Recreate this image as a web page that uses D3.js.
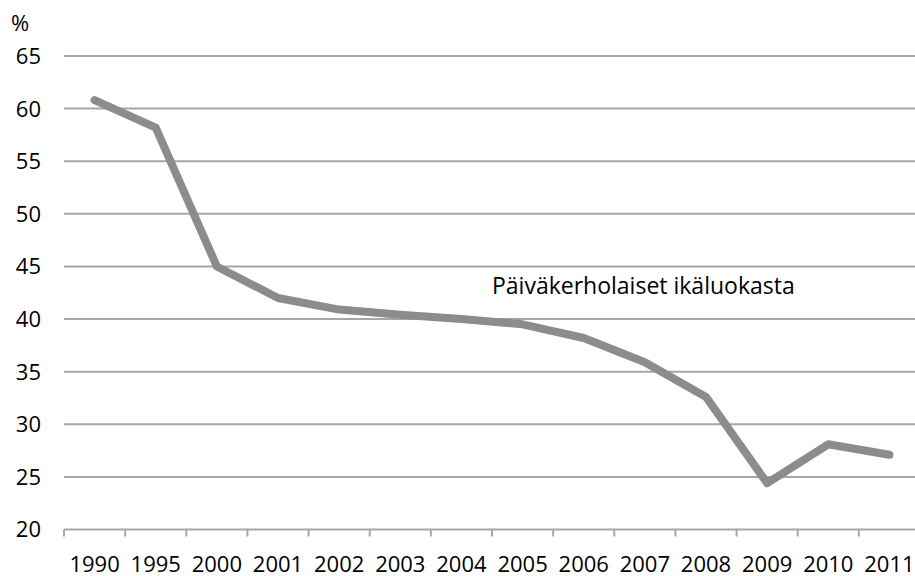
<!DOCTYPE html>
<html>
<head>
<meta charset="utf-8">
<script src="https://cdn.jsdelivr.net/npm/d3@7"></script>
<style>
  body { margin: 0; background: #fff; }
  text { font-family: "Open Sans", sans-serif; fill: #000; }
</style>
</head>
<body>
<svg id="chart" width="915" height="576"></svg>
<script>
// data
var years = ["1990", "1995", "2000", "2001", "2002", "2003", "2004", "2005", "2006", "2007", "2008", "2009", "2010", "2011"];
var values = [60.8, 58.2, 45.0, 42.0, 40.9, 40.4, 40.0, 39.5, 38.2, 35.9, 32.6, 24.4, 28.1, 27.1];
var yTicks = [20, 25, 30, 35, 40, 45, 50, 55, 60, 65];
var seriesLabel = "Päiväkerholaiset ikäluokasta";

function drawChart(){
  var svg = d3.select("#chart")
    , left = 64
    , right = 920
    , plotTop = 56
    , plotBottom = 529.5
    , gridColor = "#a6a6a6";

  var x = d3.scaleBand()
    .domain(years)
    .range([left, right]);

  var y = d3.scaleLinear()
    .domain([20, 65])
    .range([plotBottom, plotTop]);

  // gridlines (not at 20, the axis sits there)
  svg.append("g")
    .selectAll("line")
    .data(yTicks.filter(d => d > 20))
    .enter()
    .append("line")
    .attr("x1", left)
    .attr("x2", 915)
    .attr("y1", d => y(d))
    .attr("y2", d => y(d))
    .attr("stroke", gridColor)
    .attr("stroke-width", 2);

  // y labels
  svg.append("g")
    .selectAll("text")
    .data(yTicks)
    .enter()
    .append("text")
    .attr("x", 41)
    .attr("y", d => y(d))
    .attr("dy", "0.36em")
    .attr("text-anchor", "end")
    .style("font-size", "22px")
    .text(d => d);

  svg.append("text")
    .attr("x", 11)
    .attr("y", 31)
    .style("font-size", "22px")
    .text("%");

  // x axis
  var xAxis = d3.axisBottom(x)
    .tickSize(0)
    .tickSizeOuter(0);

  var gx = svg.append("g")
    .attr("transform", "translate(0," + plotBottom + ")")
    .call(xAxis);
  gx.select(".domain").remove();
  gx.selectAll("text")
    .attr("y", 42)
    .attr("dy", 0)
    .attr("fill", "#000")
    .style("font-size", "22px")
    .style("font-family", "'Open Sans', sans-serif");
  gx.attr("font-family", null).attr("font-size", null);

  gx.append("line")
    .attr("x1", left)
    .attr("x2", 915)
    .attr("stroke", gridColor)
    .attr("stroke-width", 2);

  // tick marks at band boundaries
  gx.selectAll(".bound")
    .data(years)
    .enter()
    .append("line")
    .attr("class", "bound")
    .attr("x1", d => x(d))
    .attr("x2", d => x(d))
    .attr("y1", 0)
    .attr("y2", 7)
    .attr("stroke", gridColor)
    .attr("stroke-width", 2);

  // the series
  var line = d3.line()
    .x((d, i) => x(years[i]) + x.bandwidth() / 2)
    .y(d => y(d));

  svg.append("path")
    .datum(values)
    .attr("d", line)
    .attr("fill", "none")
    .attr("stroke", "#8c8c8c")
    .attr("stroke-width", 8)
    .attr("stroke-linecap", "round")
    .attr("stroke-linejoin", "round");

  svg.append("text")
    .attr("x", 492)
    .attr("y", 294)
    .style("font-size", "23px")
    .text(seriesLabel);
}
drawChart();
</script>
</body>
</html>
